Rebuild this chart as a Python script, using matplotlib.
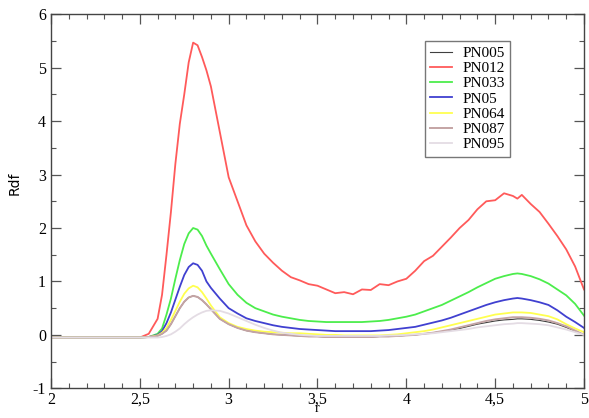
import matplotlib
matplotlib.use("Agg")
import matplotlib.pyplot as plt
from matplotlib.ticker import MultipleLocator, FuncFormatter

plt.rcParams['font.family'] = 'serif'
plt.rcParams['font.serif'] = ['Liberation Serif', 'DejaVu Serif']

# r grid
r = [2.0, 2.1, 2.2, 2.3, 2.4, 2.5, 2.55, 2.6, 2.625, 2.65,
     2.675, 2.7, 2.725, 2.75, 2.775, 2.8, 2.825, 2.85, 2.875, 2.9,
     2.95, 3.0, 3.05, 3.1, 3.15, 3.2, 3.25, 3.3, 3.35, 3.4,
     3.45, 3.5, 3.55, 3.6, 3.65, 3.7, 3.75, 3.8, 3.85, 3.9,
     3.95, 4.0, 4.05, 4.1, 4.15, 4.2, 4.25, 4.3, 4.35, 4.4,
     4.45, 4.5, 4.55, 4.6, 4.625, 4.65, 4.7, 4.75, 4.8, 4.85,
     4.9, 4.95, 5.0]

pn005 = [-0.05, -0.05, -0.05, -0.05, -0.05, -0.05, -0.04, -0.02, 0.02, 0.08,
         0.2, 0.35, 0.5, 0.62, 0.7, 0.73, 0.71, 0.65, 0.57, 0.48,
         0.3, 0.2, 0.13, 0.08, 0.05, 0.03, 0.01, 0.0, -0.01, -0.02,
         -0.03, -0.03, -0.04, -0.04, -0.04, -0.04, -0.04, -0.04, -0.03, -0.03,
         -0.02, -0.01, 0.0, 0.02, 0.04, 0.06, 0.09, 0.12, 0.16, 0.2,
         0.23, 0.26, 0.28, 0.29, 0.3, 0.3, 0.29, 0.27, 0.24, 0.2,
         0.14, 0.07, 0.0]
pn012 = [-0.05, -0.05, -0.05, -0.05, -0.05, -0.05, 0.02, 0.3, 0.75, 1.5,
         2.3, 3.2, 3.95, 4.5, 5.1, 5.47, 5.42, 5.2, 4.95, 4.65,
         3.8, 2.95, 2.5, 2.05, 1.75, 1.52, 1.35, 1.2, 1.08, 1.02,
         0.95, 0.92, 0.85, 0.78, 0.8, 0.76, 0.85, 0.84, 0.95, 0.93,
         1.0, 1.05, 1.2, 1.38, 1.48, 1.65, 1.82, 2.0, 2.15, 2.35,
         2.5, 2.52, 2.65, 2.6, 2.55, 2.62, 2.45, 2.3, 2.08, 1.85,
         1.6, 1.28, 0.85]
pn033 = [-0.05, -0.05, -0.05, -0.05, -0.05, -0.05, -0.04, 0.02, 0.12, 0.38,
         0.68, 1.05, 1.4, 1.7, 1.9, 2.0, 1.97, 1.85, 1.67, 1.52,
         1.23, 0.95, 0.75, 0.6, 0.5, 0.44, 0.38, 0.34, 0.31, 0.28,
         0.26, 0.25, 0.24, 0.24, 0.24, 0.24, 0.24, 0.25, 0.26, 0.28,
         0.31, 0.34, 0.38, 0.44, 0.5, 0.56, 0.64, 0.72, 0.8, 0.89,
         0.97, 1.05, 1.1, 1.14, 1.15, 1.14, 1.1, 1.04, 0.96, 0.85,
         0.74, 0.58, 0.36]
pn05 = [-0.05, -0.05, -0.05, -0.05, -0.05, -0.05, -0.04, 0.0, 0.07, 0.22,
        0.42, 0.66, 0.9, 1.12, 1.27, 1.34, 1.31, 1.2, 1.0, 0.88,
        0.68, 0.5, 0.4, 0.31, 0.26, 0.22, 0.18, 0.15, 0.13, 0.11,
        0.1, 0.09, 0.08, 0.07, 0.07, 0.07, 0.07, 0.07, 0.08, 0.09,
        0.11, 0.13, 0.15, 0.19, 0.23, 0.27, 0.32, 0.38, 0.44, 0.5,
        0.56, 0.61, 0.65, 0.68, 0.69, 0.68, 0.65, 0.61, 0.56, 0.46,
        0.34, 0.24, 0.13]
pn064 = [-0.05, -0.05, -0.05, -0.05, -0.05, -0.05, -0.04, -0.01, 0.04, 0.13,
         0.28, 0.45, 0.62, 0.77, 0.87, 0.92, 0.89, 0.8, 0.68, 0.55,
         0.33, 0.22, 0.15, 0.11, 0.08, 0.06, 0.05, 0.04, 0.03, 0.03,
         0.02, 0.01, 0.0, 0.0, -0.01, -0.01, -0.01, -0.01, -0.01, 0.0,
         0.01, 0.03, 0.05, 0.07, 0.1, 0.14, 0.18, 0.22, 0.26, 0.3,
         0.34, 0.38, 0.4, 0.42, 0.42, 0.42, 0.41, 0.38, 0.35, 0.29,
         0.2, 0.12, 0.05]
pn087 = [-0.05, -0.05, -0.05, -0.05, -0.05, -0.05, -0.04, -0.02, 0.02, 0.08,
         0.2, 0.35, 0.5, 0.62, 0.7, 0.73, 0.71, 0.65, 0.57, 0.48,
         0.3, 0.2, 0.13, 0.08, 0.05, 0.03, 0.01, 0.0, -0.01, -0.02,
         -0.03, -0.03, -0.04, -0.04, -0.04, -0.04, -0.04, -0.04, -0.03, -0.03,
         -0.02, -0.01, 0.0, 0.02, 0.04, 0.07, 0.1, 0.14, 0.18, 0.22,
         0.26, 0.29, 0.31, 0.33, 0.33, 0.33, 0.32, 0.3, 0.27, 0.22,
         0.16, 0.08, 0.0]
pn095 = [-0.05, -0.05, -0.05, -0.05, -0.05, -0.05, -0.05, -0.05, -0.04, -0.02,
         0.01, 0.06, 0.12, 0.2, 0.27, 0.33, 0.38, 0.42, 0.45, 0.46,
         0.45, 0.4, 0.33, 0.26, 0.19, 0.13, 0.08, 0.04, 0.02, 0.0,
         -0.01, -0.02, -0.02, -0.02, -0.02, -0.02, -0.02, -0.02, -0.02, -0.01,
         -0.01, 0.0, 0.01, 0.02, 0.03, 0.05, 0.07, 0.09, 0.11, 0.14,
         0.16, 0.18, 0.2, 0.21, 0.22, 0.22, 0.21, 0.2, 0.18, 0.14,
         0.1, 0.05, 0.0]

names = ["PN005", "PN012", "PN033", "PN05", "PN064", "PN087", "PN095"]
series = [pn005, pn012, pn033, pn05, pn064, pn087, pn095]
colors = ["#404040", "#ff5a5a", "#4ced4c", "#4040d0", "#ffff50", "#c4a4a4", "#e4dce4"]
widths = [0.8, 1.3, 1.3, 1.3, 1.3, 1.4, 1.3]

fig = plt.figure(figsize=(5.89, 4.18), dpi=100)
ax = fig.add_axes([51/589, 1 - 388.3/418, 533/589, 374/418])

for y, c, w, n in zip(series, colors, widths, names):
    ax.plot(r, y, '-', color=c, lw=w, label=n)

ax.set_xlim(2, 5)
ax.set_ylim(-1, 6)
ax.xaxis.set_major_locator(MultipleLocator(0.5))
ax.xaxis.set_minor_locator(MultipleLocator(0.1))
ax.yaxis.set_major_locator(MultipleLocator(1))
ax.yaxis.set_minor_locator(MultipleLocator(0.5))
comma = FuncFormatter(lambda v, p: ("%g" % v).replace(".", ","))
ax.xaxis.set_major_formatter(comma)
ax.yaxis.set_major_formatter(comma)

ax.tick_params(which='both', direction='in', top=True, right=True, color='#555555',
               labelsize=11.5)
ax.tick_params(which='major', length=7, width=0.9)
ax.tick_params(which='minor', length=3.5, width=0.8)
ax.tick_params(axis='x', pad=2.5)
ax.tick_params(axis='y', pad=3.5)
for sp in ax.spines.values():
    sp.set_color('#444444')
    sp.set_linewidth(1.0)

ax.set_ylabel("Rdf", fontsize=10, family="DejaVu Sans")
ax.yaxis.set_label_coords(-0.056, 0.549)
ax.set_xlabel("r", fontsize=10, va='top')
ax.xaxis.set_label_coords(0.499, -0.036)

leg = ax.legend(loc='upper right', bbox_to_anchor=((510 - 51)/533, (388.3 - 41)/374),
                borderaxespad=0, fancybox=False, framealpha=1, edgecolor='#777777',
                prop={'size': 11},
                handlelength=1.45, handletextpad=0.65, labelspacing=0.1,
                borderpad=0.35)
leg.get_frame().set_linewidth(1.0)

fig.savefig("out.png", dpi=100)
